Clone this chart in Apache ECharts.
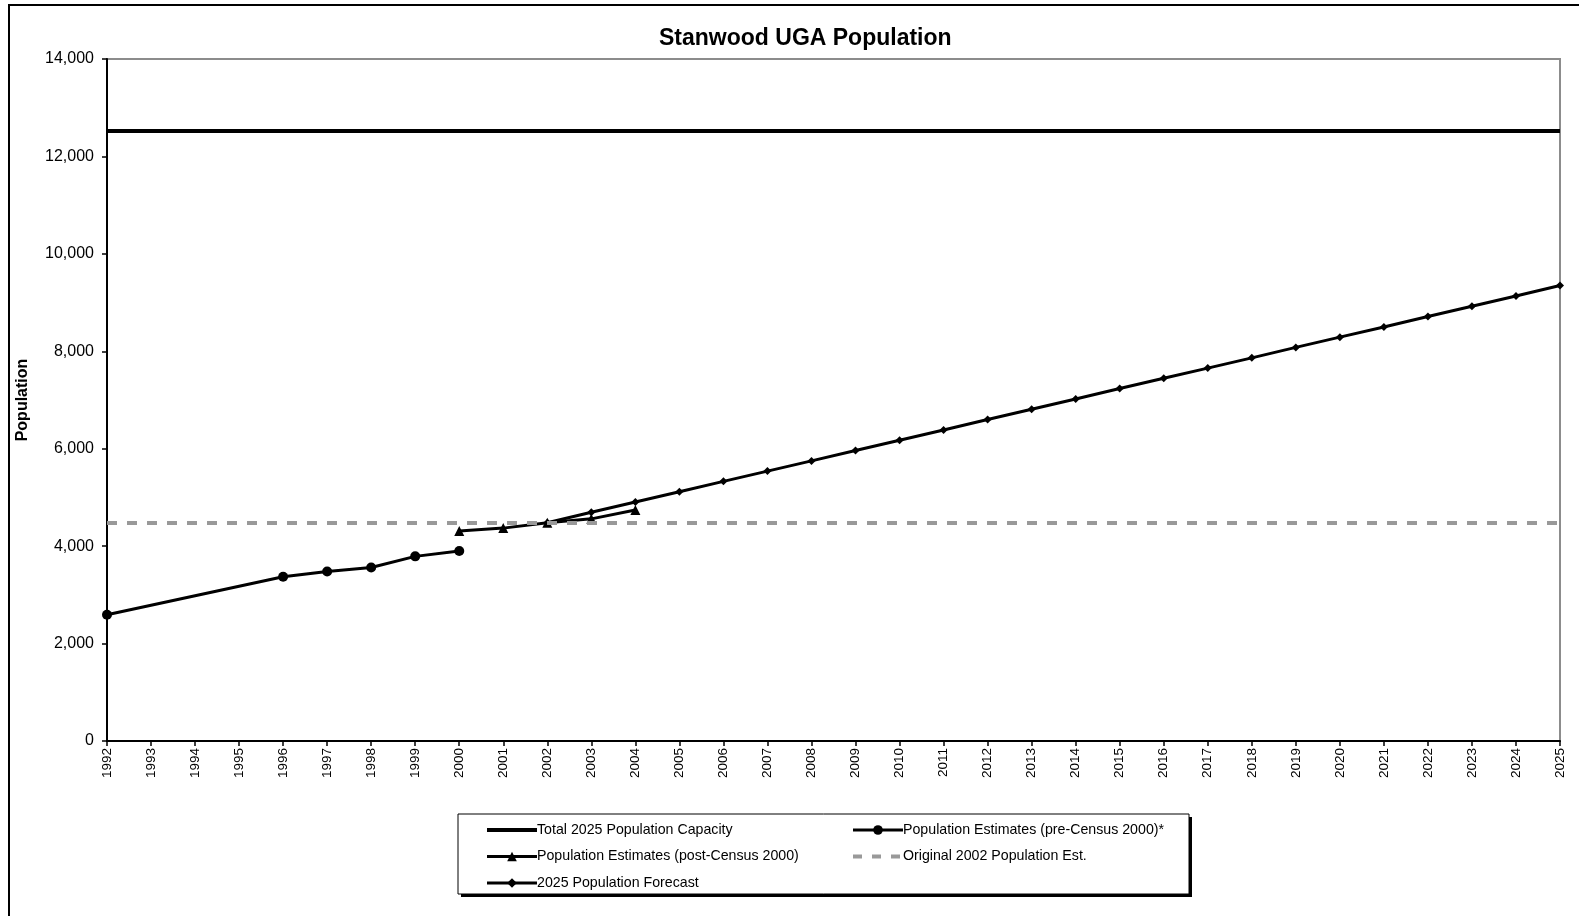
<!DOCTYPE html>
<html>
<head>
<meta charset="utf-8">
<title>Stanwood UGA Population</title>
<script src="https://cdn.jsdelivr.net/npm/echarts@6/dist/echarts.min.js"></script>
<style>
  html, body { margin: 0; padding: 0; background: #fff; }
  #chart { width: 1579px; height: 916px; }
</style>
</head>
<body>
<div id="chart"></div>
<script>
// Years along the x axis
const years = ['1992','1993','1994','1995','1996','1997','1998','1999','2000','2001','2002','2003',
  '2004','2005','2006','2007','2008','2009','2010','2011','2012','2013','2014','2015','2016',
  '2017','2018','2019','2020','2021','2022','2023','2024','2025'];

// Population estimates before the 2000 census (no estimates for 1993-1995)
const preCensus = [2590, null, null, null, 3370, 3480, 3560, 3790, 3900];

// Population estimates after the 2000 census, 2000-2004
const postCensus = [null, null, null, null, null, null, null, null, 4310, 4370, 4480, 4560, 4740];

// 2025 population forecast, 2002-2025
const forecast = [null, null, null, null, null, null, null, null, null, null,
  4480, 4695, 4905, 5115, 5330, 5540, 5750, 5965, 6175, 6385, 6600, 6810, 7020, 7235,
  7445, 7655, 7865, 8080, 8290, 8500, 8715, 8925, 9135, 9350];

// Reference levels
const capacity2025 = 12530;
const original2002Est = 4480;

const FONT = '"Liberation Sans", Arial, sans-serif';
const GRID = { left: 107, right: 19, top: 59, bottom: 175 };

const chart = echarts.init(document.getElementById('chart'), null, { renderer: 'canvas' });

const legendText = { fontFamily: FONT, fontSize: 14.2, color: '#000', lineHeight: 16, padding: [0, 0, 0, -5] };

chart.setOption({
  animation: false,
  backgroundColor: '#ffffff',
  textStyle: { fontFamily: FONT, color: '#000' },
  title: {
    text: 'Stanwood UGA Population',
    left: 654,
    top: 22,
    textStyle: { fontFamily: FONT, fontSize: 23, fontWeight: 'bold', color: '#000' }
  },
  grid: {
    left: GRID.left, right: GRID.right, top: GRID.top, bottom: GRID.bottom,
    show: true, borderColor: '#8c8c8c', borderWidth: 2, backgroundColor: 'transparent'
  },
  graphic: [
    // outer chart frame
    { type: 'rect', z: 0, silent: true,
      shape: { x: 9, y: 5, width: 1700, height: 1000 },
      style: { fill: 'none', stroke: '#000', lineWidth: 2 } },
    // legend box shadow
    { type: 'rect', z: 1, silent: true,
      shape: { x: 461, y: 817, width: 731, height: 80 },
      style: { fill: '#000', stroke: null } },
    // legend box
    { type: 'rect', z: 2, silent: true,
      shape: { x: 458, y: 814, width: 731, height: 80 },
      style: { fill: '#fff', stroke: '#000', lineWidth: 1 } }
  ],
  legend: [
    {
      z: 10, orient: 'vertical', left: 480, top: 817,
      itemWidth: 50, itemHeight: 12, itemGap: 10.5,
      textStyle: legendText,
      data: [
        { name: 'Total 2025 Population Capacity', itemStyle: { opacity: 0 }, lineStyle: { width: 4 } },
        { name: 'Population Estimates (post-Census 2000)', lineStyle: { width: 3 } },
        { name: '2025 Population Forecast', lineStyle: { width: 3 } }
      ]
    },
    {
      z: 10, orient: 'vertical', left: 846, top: 817,
      itemWidth: 50, itemHeight: 12, itemGap: 10.5,
      textStyle: legendText,
      data: [
        { name: 'Population Estimates (pre-Census 2000)*', lineStyle: { width: 3 } },
        { name: 'Original 2002 Population Est.', itemStyle: { opacity: 0 }, lineStyle: { width: 4 } }
      ]
    }
  ],
  xAxis: {
    type: 'category',
    data: years,
    boundaryGap: false,
    axisLine: { onZero: false, lineStyle: { color: '#000', width: 2 } },
    axisTick: { show: true, inside: false, length: 5, alignWithLabel: true, lineStyle: { color: '#000', width: 1.5 } },
    axisLabel: { interval: 0, rotate: 90, margin: 7, fontFamily: FONT, fontSize: 13.5, color: '#000' },
    splitLine: { show: false }
  },
  yAxis: {
    type: 'value',
    min: 0, max: 14000, interval: 2000,
    name: 'Population',
    nameLocation: 'middle',
    nameRotate: 90,
    nameGap: 76,
    nameTextStyle: { fontFamily: FONT, fontSize: 16, fontWeight: 'bold', color: '#000' },
    axisLine: { show: true, lineStyle: { color: '#000', width: 2 } },
    axisTick: { show: true, inside: false, length: 5, lineStyle: { color: '#000', width: 1.5 } },
    axisLabel: {
      margin: 13, fontFamily: FONT, fontSize: 16, color: '#000',
      formatter: v => v.toLocaleString('en-US')
    },
    splitLine: { show: false }
  },
  series: [
    {
      name: 'Total 2025 Population Capacity',
      type: 'line',
      data: [],
      symbol: 'none',
      lineStyle: { color: '#000', width: 4 },
      itemStyle: { color: '#000' },
      markLine: {
        silent: true, symbol: 'none', label: { show: false },
        lineStyle: { color: '#000', width: 4, type: 'solid' },
        data: [{ yAxis: capacity2025 }]
      }
    },
    {
      name: 'Original 2002 Population Est.',
      type: 'line',
      data: [],
      symbol: 'none',
      lineStyle: { color: '#999999', width: 4, type: [9, 10] },
      itemStyle: { color: '#999999' },
      markLine: {
        silent: true, symbol: 'none', label: { show: false },
        lineStyle: { color: '#999999', width: 4, type: [10, 10] },
        data: [{ yAxis: original2002Est }]
      }
    },
    {
      name: '2025 Population Forecast',
      type: 'line',
      data: forecast,
      symbol: 'diamond',
      symbolSize: 8,
      showAllSymbol: true,
      lineStyle: { color: '#000', width: 3 },
      itemStyle: { color: '#000' },
      z: 3
    },
    {
      name: 'Population Estimates (post-Census 2000)',
      type: 'line',
      data: postCensus,
      symbol: 'triangle',
      symbolSize: 10,
      showAllSymbol: true,
      lineStyle: { color: '#000', width: 3 },
      itemStyle: { color: '#000' },
      z: 4
    },
    {
      name: 'Population Estimates (pre-Census 2000)*',
      type: 'line',
      data: preCensus,
      connectNulls: true,
      symbol: 'circle',
      symbolSize: 10,
      showAllSymbol: true,
      lineStyle: { color: '#000', width: 3 },
      itemStyle: { color: '#000' },
      z: 5
    }
  ]
});
</script>
</body>
</html>
